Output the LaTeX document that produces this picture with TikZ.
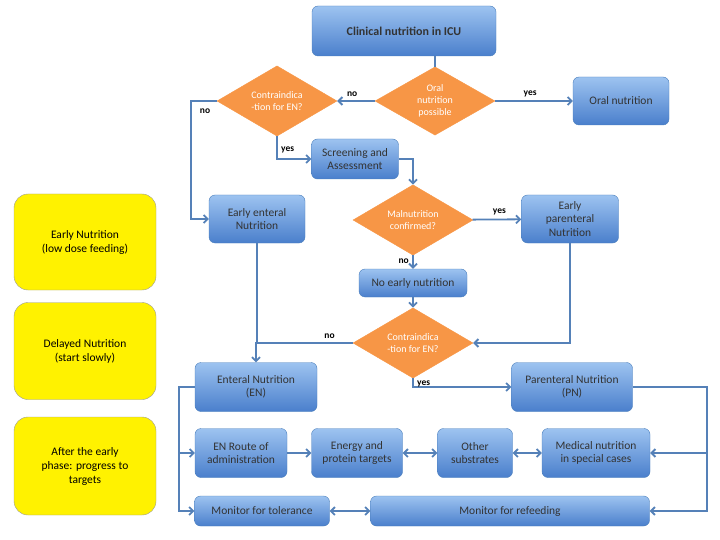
\documentclass[tikz,border=0pt]{standalone}
\usepackage{fontspec}
\setmainfont{Carlito}
\usetikzlibrary{shapes.geometric,arrows.meta}
\definecolor{boxtop}{HTML}{9DC3F0}
\definecolor{boxbot}{HTML}{4A7FCC}
\definecolor{boxline}{HTML}{4A7EBB}
\definecolor{flow}{HTML}{5581B8}
\definecolor{decide}{HTML}{F79646}
\begin{document}
\begin{tikzpicture}[x=1pt,y=-1pt,
    box/.style={draw=boxline, rounded corners=6pt, top color=boxtop, bottom color=boxbot,
        align=center, font=\fontsize{11.5}{13.5}\selectfont, text=black!80, inner sep=2pt},
    choice/.style={diamond, fill=decide, draw=decide, text=white, align=center,
        font=\fontsize{10}{12}\selectfont, minimum width=120pt, minimum height=55pt, inner sep=0pt},
    phase/.style={draw=black!40, rounded corners=14pt, fill=yellow, minimum width=142pt,
        align=center, font=\fontsize{11.5}{14}\selectfont},
    flowline/.style={flow, line width=1.8pt, -{Straight Barb[length=4pt,width=8pt]}},
    plain/.style={flow, line width=1.8pt},
    both/.style={flowline, {Straight Barb[length=4pt,width=8pt]}-{Straight Barb[length=4pt,width=8pt]}},
    lbl/.style={text=black, font=\bfseries\fontsize{9.5}{11}\selectfont}]
    \useasboundingbox (0,0) rectangle (720,540);

    % Phases on the left
    \node[phase, minimum height=96pt] (early) at (85,242) {Early Nutrition\\(low dose feeding)};
    \node[phase, minimum height=97pt] (delayed) at (85,351) {Delayed Nutrition\\(start slowly)};
    \node[phase, minimum height=98pt] (after) at (85,466) {After the early\\phase: progress to\\targets};

    % Top of the flow
    \node[box, minimum width=184pt, minimum height=50pt, font=\bfseries\fontsize{12}{14}\selectfont]
        (icu) at (404,31) {Clinical nutrition in ICU};
    \node[choice] (oral) at (435,101) {Oral\\nutrition\\possible};
    \node[choice] (contraA) at (277,101) {Contraindica\\-tion for EN?};
    \node[box, minimum width=96pt, minimum height=48pt] (oralnut) at (621,101) {Oral nutrition};
    \node[box, minimum width=87pt, minimum height=40pt] (screen) at (355,159) {Screening and\\Assessment};
    \node[box, minimum width=96pt, minimum height=48pt] (earlyEN) at (257,219) {Early enteral\\Nutrition};
    \node[choice, minimum height=54pt] (malnut) at (413,220) {Malnutrition\\confirmed?};
    \node[box, minimum width=97pt, minimum height=48pt] (earlyPN) at (570,219) {Early\\parenteral\\Nutrition};
    \node[box, minimum width=108pt, minimum height=28pt] (noearly) at (413,283) {No early nutrition};
    \node[choice, minimum height=54pt] (contraB) at (413,343) {Contraindica\\-tion for EN?};

    % Bottom of the flow
    \node[box, minimum width=122pt, minimum height=49pt] (EN) at (256,387) {Enteral Nutrition\\(EN)};
    \node[box, minimum width=121pt, minimum height=49pt] (PN) at (572,387) {Parenteral Nutrition\\(PN)};
    \node[box, minimum width=92pt, minimum height=49pt] (route) at (241,453) {EN Route of\\administration};
    \node[box, minimum width=91pt, minimum height=49pt] (energy) at (357,453) {Energy and\\protein targets};
    \node[box, minimum width=75pt, minimum height=49pt] (other) at (475,453) {Other\\substrates};
    \node[box, minimum width=108pt, minimum height=49pt] (medical) at (596,453) {Medical nutrition\\in special cases};
    \node[box, minimum width=135pt, minimum height=30pt] (tolerance) at (262,511) {Monitor for tolerance};
    \node[box, minimum width=279pt, minimum height=30pt] (refeed) at (510,511) {Monitor for refeeding};

    % Connectors
    \draw[plain] (icu.south -| oral.north) -- (oral.north);
    \draw[flowline] (oral) -- node[lbl, above, pos=0.6] {no} (contraA);
    \draw[flowline] (oral) -- node[lbl, above, pos=0.45] {yes} (oralnut);
    \draw[flowline] (contraA.west) -| (191,160) |- (earlyEN.west);
    \node[lbl] at (205,111) {no};
    \draw[flowline] (contraA.south) |- node[lbl, pos=0.3, right] {yes} (screen.west);
    \draw[flowline] (screen.east) -| (malnut.north);
    \draw[flowline] (malnut) -- node[lbl, above, pos=0.55] {yes} (earlyPN);
    \draw[flowline] (malnut) -- node[lbl, left, pos=0.4] {no} (noearly);
    \draw[flowline] (noearly) -- (contraB);
    \draw[flowline] (earlyPN.south) |- (contraB.east);
    \draw[flowline] (contraB.west) -| node[lbl, above, pos=0.12] {no} (EN.north);
    \draw[plain] (earlyEN.south) -- (earlyEN.south |- contraB.west);
    \draw[flowline] (contraB.south) |- node[lbl, right, pos=0.3] {yes} (PN.west);
    \draw[plain] (EN.west) -| (179,453);
    \draw[flowline] (179,453) -- (route.west);
    \draw[flowline] (179,453) |- (tolerance.west);
    \draw[plain] (PN.east) -| (707,453);
    \draw[flowline] (707,453) -- (medical.east);
    \draw[flowline] (707,453) |- (refeed.east);
    \draw[flowline] (route) -- (energy);
    \draw[both] (energy) -- (other);
    \draw[both] (other) -- (medical);
    \draw[both] (tolerance) -- (refeed);
\end{tikzpicture}
\end{document}
